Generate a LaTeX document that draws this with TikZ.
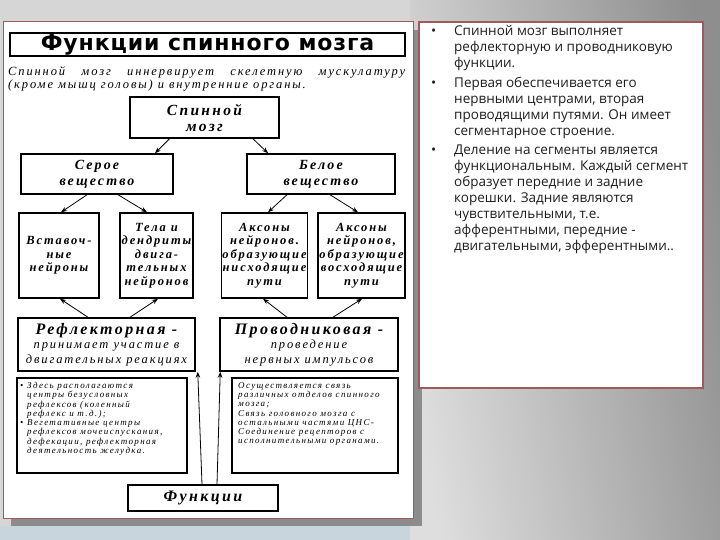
\documentclass[tikz,border=0pt]{standalone}
\usepackage{fontspec}
\usetikzlibrary{positioning,arrows.meta}
\newfontfamily\scanfont{Liberation Serif}[LetterSpace=15]
\newfontfamily\headfont{DejaVu Sans}[LetterSpace=4]
\newfontfamily\slidefont{Open Sans}
\definecolor{panelred}{HTML}{A05A5A}
\definecolor{shadowgray}{HTML}{8C8C8C}
\definecolor{bglight}{HTML}{D6D6D6}
\definecolor{bgdark}{HTML}{8E8E8E}
\definecolor{bgblue}{HTML}{C9D5DC}
\definecolor{slidetext}{HTML}{1E1E1E}
\begin{document}
\begin{tikzpicture}[x=1pt, y=-1pt,
    box/.style={draw, line width=1.5pt, inner sep=1pt, align=center, font=\scanfont\bfseries\itshape},
    cell/.style={box, minimum height=85pt, font=\scanfont\bfseries\itshape\fontsize{12.5}{13.5}\selectfont},
    note/.style={inner sep=0pt, align=left, font=\scanfont\itshape\fontsize{9}{9.3}\selectfont},
    textblock/.style={inner sep=0pt, anchor=north west, align=left, text=slidetext, font=\slidefont\fontsize{13.5}{16}\selectfont},
    arr/.style={-{Stealth[length=6pt,width=4.5pt]}, line width=0.8pt},
  ]
  \useasboundingbox (0,0) rectangle (720,540);
  % background and panels
  \fill[bglight] (0,0) rectangle (720,540);
  \shade[shading=axis, left color=bglight!80!white, right color=bgdark, shading angle=100] (410,0) rectangle (720,540);
  \fill[bgblue] (0,526) rectangle (410,540);
  \fill[shadowgray] (11,30) rectangle (422,526);
  \filldraw[fill=white, draw=panelred, line width=1pt] (3,22) rectangle (413,518);
  \filldraw[fill=white, draw=panelred, line width=1.2pt] (419,22) rectangle (703,388);

  % left scheme
  \node[box, line width=2pt, minimum width=395pt, minimum height=23pt, font=\headfont\bfseries\fontsize{22}{24}\selectfont] (title) at (207.5,44.5) {Функции спинного мозга};
  \node[anchor=west, inner sep=0pt, align=left, font=\scanfont\itshape\fontsize{12.5}{13}\selectfont] (intro) at (8,78.5)
    {\makebox[397pt][s]{Спинной мозг иннервирует скелетную мускулатуру}\\(кроме мышц головы) и внутренние органы.};

  \node[box, minimum width=149pt, minimum height=41pt, font=\scanfont\bfseries\itshape\fontsize{15.5}{16}\selectfont] (cord) at (204.5,117.5) {Спинной\\мозг};
  \node[box, minimum width=152pt, minimum height=40pt, font=\scanfont\bfseries\itshape\fontsize{14}{16}\selectfont] (grey) at (97,174) {Серое\\вещество};
  \node[box, minimum width=148pt, minimum height=40pt, font=\scanfont\bfseries\itshape\fontsize{14}{16}\selectfont] (white) at (321,174) {Белое\\вещество};

  \node[cell, minimum width=80pt] (inter) at (59,255.5) {Вставоч-\\ные\\нейроны};
  \node[cell, minimum width=73pt] (motor) at (156.5,255.5) {Тела и\\дендриты\\двига-\\тельных\\нейронов};
  \node[cell, minimum width=83pt] (desc) at (264.5,255.5) {Аксоны\\нейронов.\\образующие\\нисходящие\\пути};
  \node[cell, minimum width=87pt] (asc) at (361.5,255.5) {Аксоны\\нейронов,\\образующие\\восходящие\\пути};

  \node[box, minimum width=177pt, minimum height=53pt, font=\scanfont\itshape\fontsize{12.5}{14.5}\selectfont] (refl) at (106.5,344.5)
    {{\bfseries\fontsize{16}{16}\selectfont Рефлекторная -}\\принимает участие в\\двигательных реакциях};
  \node[box, minimum width=178pt, minimum height=53pt, font=\scanfont\itshape\fontsize{12.5}{14.5}\selectfont] (cond) at (309,344.5)
    {{\bfseries\fontsize{16}{16}\selectfont Проводниковая -}\\проведение\\нервных импульсов};

  \node[box, line width=2pt, minimum width=170pt, minimum height=95pt] (reflbox) at (102,425.5) {};
  \node[note, anchor=north west] (refltext) at ([shift={(11pt,-5pt)}]reflbox.north west)
    {\makebox[0pt][r]{\textbullet\hspace{4pt}}Здесь располагаются\\центры безусловных\\рефлексов (коленный\\рефлекс и т.д.);\\
     \makebox[0pt][r]{\textbullet\hspace{4pt}}Вегетативные центры\\рефлексов мочеиспускания,\\дефекации, рефлекторная\\деятельность желудка.};
  \node[box, line width=2pt, minimum width=166pt, minimum height=95pt] (condbox) at (315,425.5) {};
  \node[note, anchor=north west] (condtext) at ([shift={(7pt,-5pt)}]condbox.north west)
    {Осуществляется связь\\различных отделов спинного\\мозга;\\Связь головного мозга с\\остальными частями ЦНС-\\Соединение рецепторов с\\исполнительными органами.};

  \node[box, minimum width=150pt, minimum height=26pt, font=\scanfont\bfseries\itshape\fontsize{16}{16}\selectfont] (func) at (203,498) {Функции};

  \draw[arr] ([xshift=-35pt]cord.south) -- ([xshift=58pt]grey.north);
  \draw[arr] ([xshift=48.5pt]cord.south) -- ([xshift=-53pt]white.north);
  \draw[arr] ([xshift=-10pt]grey.south) -- ([xshift=2pt]inter.north);
  \draw[arr] ([xshift=21pt]grey.south) -- ([xshift=-9.5pt]motor.north);
  \draw[arr] ([xshift=-34pt]white.south) -- ([xshift=3.5pt]desc.north);
  \draw[arr] ([xshift=9pt]white.south) -- ([xshift=-3.5pt]asc.north);
  \draw[arr] ([xshift=-18.5pt]refl.north) -- ([xshift=1pt]inter.south);
  \draw[arr] ([xshift=23.5pt]refl.north) -- ([xshift=1.5pt]motor.south);
  \draw[arr] ([xshift=-22pt]cond.north) -- ([xshift=-1.5pt]desc.south);
  \draw[arr] ([xshift=24pt]cond.north) -- ([xshift=0.5pt]asc.south);
  \draw[arr] ([xshift=-1pt]func.north) -- ([xshift=2pt]refl.south east);
  \draw[arr] ([xshift=14pt]func.north) -- ([xshift=1pt]cond.south west);

  % right text
  \node[textblock] (p1) at (454,25) {\makebox[0pt][r]{\textbullet\hspace{18pt}}Спинной мозг выполняет\\рефлекторную и проводниковую\\функции.};
  \node[textblock] (p2) at (454,77) {\makebox[0pt][r]{\textbullet\hspace{18pt}}Первая обеспечивается его\\нервными центрами, вторая\\проводящими путями. Он имеет\\сегментарное строение.};
  \node[textblock] (p3) at (454,145) {\makebox[0pt][r]{\textbullet\hspace{18pt}}Деление на сегменты является\\функциональным. Каждый сегмент\\образует передние и задние\\корешки. Задние являются\\чувствительными, т.е.\\афферентными, передние -\\двигательными, эфферентными..};
\end{tikzpicture}
\end{document}
